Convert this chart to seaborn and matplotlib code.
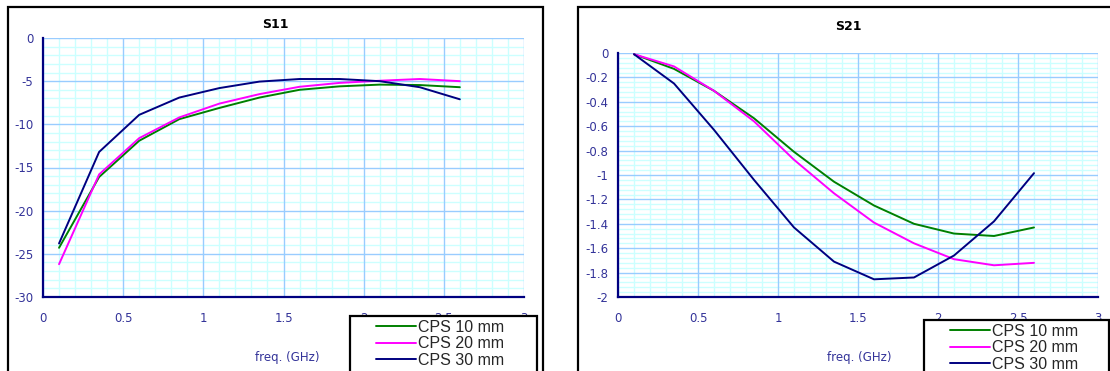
import numpy as np
import pandas as pd
import matplotlib
matplotlib.use("Agg")
import matplotlib.pyplot as plt
from matplotlib.ticker import MultipleLocator, FuncFormatter
from matplotlib.patches import Rectangle
import seaborn as sns

# Frequency points (GHz)
freq = [0.1, 0.35, 0.6, 0.85, 1.1, 1.35, 1.6, 1.85, 2.1, 2.35, 2.6]
series_names = ["CPS 10 mm", "CPS 20 mm", "CPS 30 mm"]

# S11 (dB)
s11_10mm = [-24.3, -16.1, -11.9, -9.4, -8.1, -6.9, -6.0, -5.6, -5.4, -5.45, -5.7]
s11_20mm = [-26.2, -15.8, -11.6, -9.2, -7.6, -6.5, -5.65, -5.2, -4.95, -4.75, -5.0]
s11_30mm = [-23.8, -13.2, -8.9, -6.9, -5.8, -5.05, -4.75, -4.75, -5.0, -5.7, -7.1]

# S21 (dB)
s21_10mm = [-0.01, -0.13, -0.31, -0.535, -0.81, -1.055, -1.25, -1.40, -1.48, -1.50, -1.43]
s21_20mm = [-0.01, -0.11, -0.31, -0.56, -0.875, -1.15, -1.39, -1.56, -1.69, -1.74, -1.72]
s21_30mm = [-0.01, -0.25, -0.63, -1.04, -1.43, -1.71, -1.855, -1.84, -1.66, -1.38, -0.985]

xticks = [0, 0.5, 1, 1.5, 2, 2.5, 3]
s11_yticks = [-30, -25, -20, -15, -10, -5, 0]
s21_yticks = [-2, -1.8, -1.6, -1.4, -1.2, -1, -0.8, -0.6, -0.4, -0.2, 0]

colors = {"CPS 10 mm": "#008000", "CPS 20 mm": "#FF00FF", "CPS 30 mm": "#000080"}
navy = "#000080"
tick_color = "#333399"
major_grid = "#99CCFF"
minor_grid = "#CCFFFF"


def long_frame(values):
    rows = []
    for name, vals in zip(series_names, values):
        for f, v in zip(freq, vals):
            rows.append({"freq": f, "value": v, "series": name})
    return pd.DataFrame(rows)


sns.set_style("white")
plt.rcParams["font.family"] = ["DejaVu Sans"]
plt.rcParams["axes.unicode_minus"] = False

W, H = 1110, 371
fig = plt.figure(figsize=(W / 100, H / 100), dpi=100)


def fig_rect(x0, y0, x1, y1):
    # pixel box (top-left origin) -> figure fraction [left, bottom, width, height]
    return [x0 / W, (H - y1) / H, (x1 - x0) / W, (y1 - y0) / H]


def style_axes(ax, ylim, yminor, yticks):
    ax.set_xlim(0, 3)
    ax.set_ylim(*ylim)
    ax.set_xticks(xticks)
    ax.set_yticks(yticks)
    ax.xaxis.set_minor_locator(MultipleLocator(0.1))
    ax.yaxis.set_minor_locator(MultipleLocator(yminor))
    fmt = FuncFormatter(lambda v, p: "%g" % round(v, 6))
    ax.xaxis.set_major_formatter(fmt)
    ax.yaxis.set_major_formatter(fmt)
    ax.set_axisbelow(True)
    # fine grid underneath, coarse grid drawn on top of it
    ax.grid(which="minor", color=minor_grid, lw=1.0)
    ax.grid(which="major", visible=False)
    for xv in xticks:
        ax.axvline(xv, color=major_grid, lw=1.0, zorder=0.8)
    for yv in yticks:
        ax.axhline(yv, color=major_grid, lw=1.0, zorder=0.8)
    for s in ("top", "right"):
        ax.spines[s].set_visible(False)
    for s in ("left", "bottom"):
        ax.spines[s].set_color(navy)
        ax.spines[s].set_linewidth(1.6)
        ax.spines[s].set_zorder(3)
    ax.tick_params(which="major", direction="out", length=4, width=1.5,
                   color=navy, labelcolor=tick_color, labelsize=8.5)
    ax.tick_params(axis="x", which="major", pad=7)
    ax.tick_params(axis="y", which="major", pad=3)
    ax.tick_params(which="minor", length=0)
    ax.set_xlabel("")
    ax.set_ylabel("")


panels = [
    dict(frame=(8, 7, 543, 400), axes=(43, 38, 524, 297), title="S11", title_xy=(275.5, 25),
         xlabel_xy=(287, 358), legend_box=(350, 316, 537, 400), legend_xy=(376, 320),
         data=[s11_10mm, s11_20mm, s11_30mm], ylim=(-30, 0), yminor=1,
         yticks=s11_yticks),
    dict(frame=(578, 7, 1118, 400), axes=(618, 53, 1098, 297), title="S21", title_xy=(848, 27),
         xlabel_xy=(859, 358), legend_box=(924, 320, 1109, 400), legend_xy=(950, 324),
         data=[s21_10mm, s21_20mm, s21_30mm], ylim=(-2, 0), yminor=0.04,
         yticks=s21_yticks),
]

for p in panels:
    fx0, fy0, fx1, fy1 = p["frame"]
    frame = Rectangle((fx0 / W, (H - fy1) / H), (fx1 - fx0) / W, (fy1 - fy0) / H,
                      transform=fig.transFigure, facecolor="white", edgecolor="black",
                      lw=1.6, zorder=-1)
    fig.add_artist(frame)

    ax = fig.add_axes(fig_rect(*p["axes"]))
    df = long_frame(p["data"])
    sns.lineplot(data=df, x="freq", y="value", hue="series", palette=colors,
                 hue_order=series_names, linewidth=1.4, ax=ax, legend=True)
    handles, labels = ax.get_legend_handles_labels()
    ax.get_legend().remove()
    style_axes(ax, p["ylim"], p["yminor"], p["yticks"])

    fig.text(p["title_xy"][0] / W, 1 - p["title_xy"][1] / H, p["title"],
             ha="center", va="center", fontsize=9, fontweight="bold", color="black")
    fig.text(p["xlabel_xy"][0] / W, 1 - p["xlabel_xy"][1] / H, "freq. (GHz)",
             ha="center", va="center", fontsize=8.5, color=tick_color)

    lx0, ly0, lx1, ly1 = p["legend_box"]
    box = Rectangle((lx0 / W, (H - ly1) / H), (lx1 - lx0) / W, (ly1 - ly0) / H,
                    transform=fig.transFigure, facecolor="white", edgecolor="black",
                    lw=1.6, zorder=5)
    fig.add_artist(box)
    leg = fig.legend(handles, labels, loc="upper left",
                     bbox_to_anchor=(p["legend_xy"][0] / W, 1 - p["legend_xy"][1] / H),
                     frameon=False, borderpad=0, borderaxespad=0, labelspacing=0.08,
                     handlelength=2.5, handletextpad=0.15,
                     prop={"family": "Liberation Sans", "size": 11.5})
    leg.set_zorder(6)
    for line in leg.get_lines():
        line.set_linewidth(1.4)

fig.savefig("out.png", dpi=100)
